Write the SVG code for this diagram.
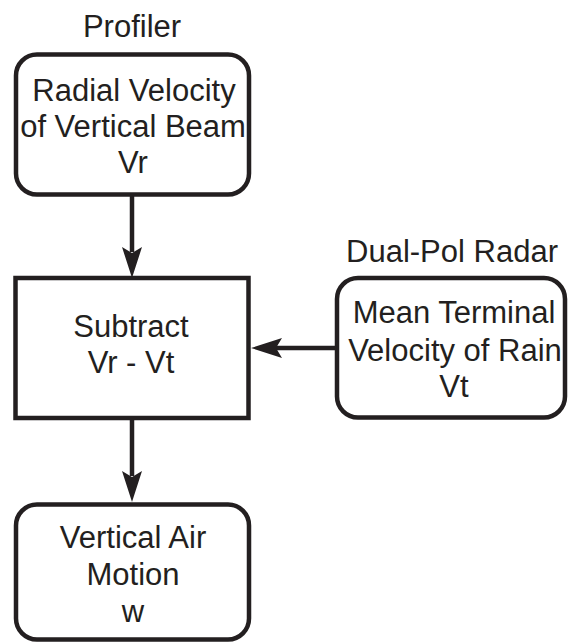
<svg xmlns="http://www.w3.org/2000/svg" width="569" height="642" viewBox="0 0 569 642">
<style>
.box{fill:#fff;stroke:#231f20;stroke-width:4.5}
.t{font-family:"Liberation Sans",Arial,sans-serif;font-size:31px;fill:#231f20;text-anchor:middle}
.ln{stroke:#231f20;stroke-width:4.5;fill:none}
.ah{fill:#231f20}
</style>
<rect width="569" height="642" fill="#fff"/>
<g id="connectors">
<line class="ln" x1="132" y1="194" x2="132" y2="252"/>
<path class="ah" d="M132,278 L122,247 L132,253 L142,247 Z"/>
<line class="ln" x1="132" y1="418" x2="132" y2="476"/>
<path class="ah" d="M132,502 L122,471 L132,477 L142,471 Z"/>
<line class="ln" x1="337" y1="348" x2="276" y2="348"/>
<path class="ah" d="M251,348 L282,338 L276,348 L282,358 Z"/>
</g>
<g id="label-profiler">
<text class="t" x="132" y="37">Profiler</text>
</g>
<g id="node-radial">
<rect class="box" x="16" y="54.5" width="233" height="140" rx="21"/>
<text class="t" x="134" y="101">Radial Velocity</text>
<text class="t" x="133" y="137">of Vertical Beam</text>
<text class="t" x="133" y="173">Vr</text>
</g>
<g id="node-subtract">
<rect class="box" x="15.5" y="278" width="233" height="140"/>
<text class="t" x="131" y="337">Subtract</text>
<text class="t" x="131" y="373">Vr - Vt</text>
</g>
<g id="label-radar">
<text class="t" x="452" y="262">Dual-Pol Radar</text>
</g>
<g id="node-terminal">
<rect class="box" x="337" y="278" width="228" height="139.5" rx="21"/>
<text class="t" x="454" y="323">Mean Terminal</text>
<text class="t" x="455" y="361">Velocity of Rain</text>
<text class="t" x="454" y="397">Vt</text>
</g>
<g id="node-air">
<rect class="box" x="16" y="504.5" width="233" height="135" rx="21"/>
<text class="t" x="133" y="548">Vertical Air</text>
<text class="t" x="133" y="585">Motion</text>
<text class="t" x="133" y="622">w</text>
</g>
</svg>
